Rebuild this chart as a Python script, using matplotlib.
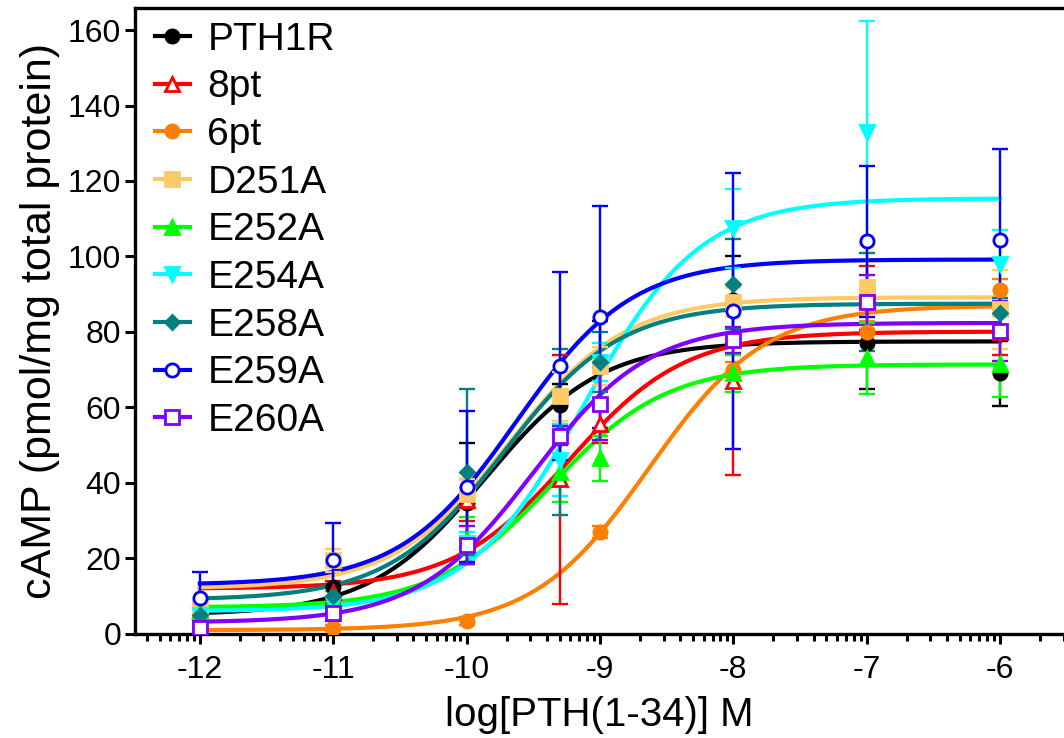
import numpy as np
import matplotlib
matplotlib.use("Agg")
import matplotlib.pyplot as plt

plt.rcParams['font.family'] = ['Liberation Sans', 'DejaVu Sans']
plt.rcParams['axes.unicode_minus'] = False

# log[PTH(1-34)] M
log_dose = [-12, -11, -10, -9.3, -9, -8, -7, -6]

names = ['PTH1R', '8pt', '6pt', 'D251A', 'E252A', 'E254A', 'E258A', 'E259A', 'E260A']
colors = ['#000000', '#FF0000', '#FF8000', '#FFC966', '#00FF00', '#00FFFF', '#008080', '#0000FF', '#8000FF']
markers = ['o', '^', 'o', 's', '^', 'v', 'D', 'o', 's']
filled = [True, False, True, True, True, True, True, False, False]

# mean cAMP (pmol/mg total protein)
pth1r = [3.5, 12.4, 34.6, 60.6, 71.0, 88.5, 77.2, 69.0]
pt8 = [6.0, 11.0, 35.5, 41.0, 55.5, 67.0, 88.5, 80.0]
pt6 = [1.0, 1.5, 3.5, np.nan, 27.0, 70.0, 80.0, 91.0]
d251a = [7.0, 19.5, 37.0, 63.0, 71.0, 88.0, 92.0, 86.0]
e252a = [6.0, 9.0, 25.0, 43.0, 46.5, 69.0, 73.0, 71.5]
e254a = [5.0, 8.0, 24.0, 46.0, 72.0, 107.5, 133.0, 98.0]
e258a = [5.0, 10.0, 43.0, 53.5, 72.0, 92.7, 88.0, 85.0]
e259a = [9.5, 19.5, 39.0, 71.0, 84.0, 85.5, 104.0, 104.3]
e260a = [1.5, 5.5, 23.5, 52.5, 61.0, 77.8, 87.9, 80.3]

# SEM
pth1r_err = [2.0, 6.5, 16.0, 5.5, 12.0, 11.5, 12.2, 8.7]
pt8_err = [2.0, 3.0, 5.5, 33.0, 5.0, 25.0, 9.0, 6.0]
pt6_err = [0.5, 0.8, 1.0, np.nan, 1.5, 2.0, 3.0, 3.0]
d251a_err = [1.5, 3.0, 4.0, 6.5, 5.0, 4.0, 11.0, 10.5]
e252a_err = [1.5, 2.5, 6.0, 8.0, 6.0, 5.0, 9.5, 8.7]
e254a_err = [1.0, 2.0, 3.0, 9.5, 5.0, 10.5, 29.5, 9.0]
e258a_err = [1.5, 3.0, 22.0, 22.0, 8.0, 12.0, 13.0, 4.0]
e259a_err = [7.0, 10.0, 20.0, 25.0, 29.5, 36.5, 20.0, 24.3]
e260a_err = [1.0, 2.0, 5.0, 2.5, 9.7, 3.5, 7.3, 8.0]

# sigmoidal fits: bottom, top, logEC50, hill slope
bottoms = [5.0, 12.0, 1.0, 12.0, 7.0, 6.0, 9.0, 13.0, 3.0]
tops = [77.5, 80.1, 87.0, 89.2, 71.4, 115.4, 87.5, 99.2, 82.4]
log_ec50 = [-9.86, -9.23, -8.63, -9.68, -9.37, -9.12, -9.72, -9.63, -9.5]
hills = [1.0, 1.0, 1.0, 1.0, 1.0, 1.0, 1.0, 1.0, 1.0]

means = [pth1r, pt8, pt6, d251a, e252a, e254a, e258a, e259a, e260a]
errs = [pth1r_err, pt8_err, pt6_err, d251a_err, e252a_err, e254a_err, e258a_err, e259a_err, e260a_err]

fig = plt.figure(figsize=(10.64, 7.38), dpi=100)
ax = fig.add_axes([0.127, 0.141, 0.873, 0.848])

xx = np.linspace(-12, -6, 300)
handles = []
for i in range(len(names)):
    c = colors[i]
    ms = 9.5 if markers[i] != 'D' else 7
    yy = bottoms[i] + (tops[i] - bottoms[i]) / (1 + 10 ** (hills[i] * (log_ec50[i] - xx)))
    ax.plot(xx, yy, color=c, lw=3, zorder=2)
    ax.errorbar(log_dose, means[i], yerr=errs[i], fmt='none', ecolor=c,
                elinewidth=1.7, capsize=5.5, capthick=1.7, zorder=3)
    ax.plot(log_dose, means[i], linestyle='none', marker=markers[i], ms=ms,
            mfc=c if filled[i] else 'white', mec=c, mew=2, zorder=4)
    h, = ax.plot([], [], color=c, lw=3, marker=markers[i], ms=ms,
                 mfc=c if filled[i] else 'white', mec=c, mew=2)
    handles.append(h)

ax.set_xlim(-12.485, -5.52)
ax.set_ylim(0, 165.8)
ax.set_yticks([0, 20, 40, 60, 80, 100, 120, 140, 160])
ax.set_xticks([-12, -11, -10, -9, -8, -7, -6])
minor = []
for d in range(-13, -5):
    for k in range(2, 10):
        v = d + np.log10(k)
        if -12.485 < v < -5.52:
            minor.append(v)
ax.set_xticks(minor, minor=True)

for s in ['left', 'bottom', 'top']:
    ax.spines[s].set_linewidth(2.4)
ax.spines['right'].set_visible(False)
ax.tick_params(axis='both', which='major', length=7, width=2.2, labelsize=23, pad=3)
ax.tick_params(axis='x', which='minor', length=5, width=2.2)
ax.tick_params(axis='x', pad=8)

ax.set_xlabel('log[PTH(1-34)] M', fontsize=29, labelpad=8)
ax.set_ylabel('cAMP (pmol/mg total protein)', fontsize=31, labelpad=6)

ax.legend(handles, names, loc='upper left', bbox_to_anchor=(-0.008, 1.022), frameon=False,
          fontsize=28, handlelength=0.9, handletextpad=0.45, labelspacing=0.3,
          borderaxespad=0.3)

fig.savefig('out.png', dpi=100)
